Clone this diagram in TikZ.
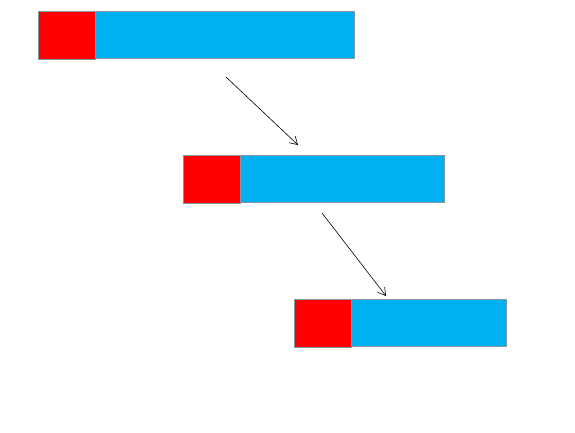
\documentclass[tikz,border=0pt]{standalone}
\usetikzlibrary{arrows.meta}
\definecolor{barred}{RGB}{255,0,0}
\definecolor{barblue}{RGB}{0,176,240}
\definecolor{bordergray}{RGB}{128,150,160}
\tikzset{
  redbox/.style={fill=barred, draw=bordergray, line width=0.8pt},
  bluebox/.style={fill=barblue, draw=bordergray, line width=0.8pt},
  flow/.style={draw=black, line width=0.6pt, -{Straight Barb[length=7.5pt,width=9pt]}}
}
\begin{document}
\begin{tikzpicture}[x=1pt,y=-1pt]
\useasboundingbox (0,0) rectangle (575,433);
% top
\path[bluebox] (95,11) rectangle (354,58);
\path[redbox] (38,11) rectangle (95,59);
% middle
\path[bluebox] (240,155) rectangle (444,202);
\path[redbox] (183,155) rectangle (240,203);
% bottom
\path[bluebox] (351,299) rectangle (506,346);
\path[redbox] (294,299) rectangle (351,347);
\coordinate (a1s) at (226,77);
\coordinate (a1e) at (298,145);
\coordinate (a2s) at (322,213);
\coordinate (a2e) at (386,296);
\draw[flow] (a1s) -- (a1e);
\draw[flow] (a2s) -- (a2e);
\end{tikzpicture}
\end{document}
